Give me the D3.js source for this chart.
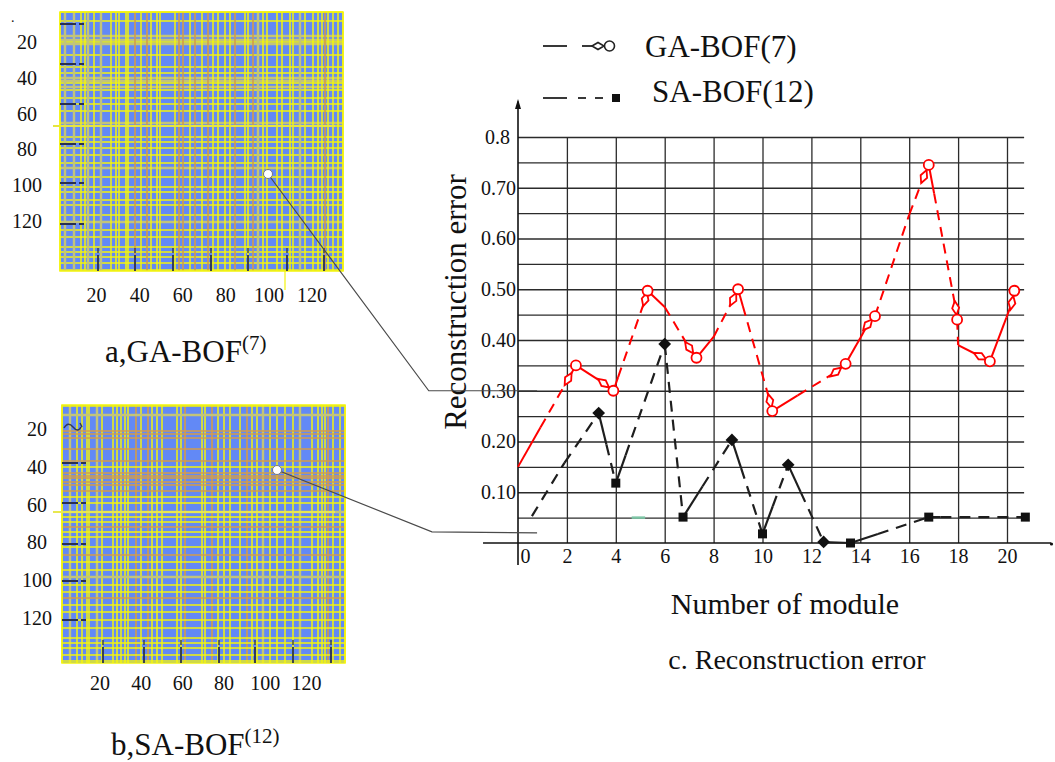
<!DOCTYPE html>
<html><head><meta charset="utf-8">
<script src="https://cdn.jsdelivr.net/npm/d3@7"></script>
<style>
body{margin:0;background:#fff}
svg{display:block}
text{font-family:"Liberation Serif","Times New Roman",serif;fill:#111}
</style>
</head><body>
<svg id="c" width="1055" height="762"></svg>
<script>
// ---------------- DATA ----------------
const moduleTicks = [0,2,4,6,8,10,12,14,16,18,20];
const moduleGrid = [2,4,6,8,10,12,14,16,18,20];
const errorTicks = [0.1,0.2,0.3,0.4,0.5,0.6,0.7,0.8];
const errorTickLabels = ["0.10","0.20","0.30","0.40","0.50","0.60","0.70","0.8"];
const errorGrid = [0.05,0.1,0.15,0.2,0.25,0.3,0.35,0.4,0.45,0.5,0.55,0.6,0.65,0.7,0.75,0.8];

// GA-BOF(7) series (red)
const gaX = [0,2.05,2.37,3.5,3.9,5.2,5.3,6.0,7.0,7.3,8.0,8.8,9.0,10.3,10.4,13.0,13.4,14.0,14.3,14.6,16.0,16.6,16.8,17.9,17.96,18.0,18.9,19.3,20.2,20.3];
const gaY = [0.15,0.323,0.35,0.315,0.30,0.48,0.497,0.465,0.385,0.365,0.406,0.48,0.50,0.28,0.26,0.337,0.353,0.404,0.43,0.447,0.647,0.722,0.745,0.463,0.44,0.39,0.368,0.358,0.473,0.497];
const gaMark = ['','d','c','d','c','d','c','','d','c','','d','c','d','c','d','c','','d','c','','d','c','d','c','','d','c','d','c'];
// SA-BOF(12) series (black)
const saX = [0.57,1.9,3.3,4.0,6.0,6.75,8.75,10.0,11.05,12.5,13.6,16.8,20.75];
const saY = [0.053,0.158,0.256,0.118,0.392,0.051,0.203,0.018,0.154,0.002,0.0,0.051,0.051];
const saMark = ['','','d','s','d','s','d','s','d','d','s','s','s'];

// line style: share of each segment drawn solid before it turns dashed
const gaSolid = [0.45,1,1,1,0.15,1,1,0,1,1,0,1,0.15,1,0.4,1,1,1,1,0,0,1,0.2,1,0,1,1,0.75,1];
const saSolid = [0,0,0.45,0.2,0,0.4,0.3,0.4,0.35,1,0.35,0.12];

// left panels
const panelTickValues = [20,40,60,80,100,120];
const panelALabel = ["a,GA-BOF","(7)"];
const panelBLabel = ["b,SA-BOF","(12)"];
// texture lines of the small images: [position in image pixels, kind]
const aCols = [[0,'y'],[2.5,'p'],[7,'p'],[10.5,'y'],[12.5,'y'],[14,'p'],[17,'y'],[20.5,'p'],[25.5,'y'],[28,'y'],[29.5,'y'],[33,'y'],[34,'y'],[37.5,'o'],[40.5,'y'],[43.5,'o'],[45.5,'y'],[48.5,'y'],[50,'y'],[57.5,'y'],[59.5,'o'],[61.5,'o'],[65,'y'],[67.5,'o'],[71,'y'],[74,'o'],[76.5,'y'],[79,'y'],[82.5,'y'],[85,'y'],[87.5,'o'],[92.5,'y'],[94,'y'],[96.5,'o'],[99,'p'],[101.5,'y'],[103.5,'y'],[108.5,'y'],[111,'y'],[115,'y'],[116.5,'y'],[120,'p'],[122.5,'y'],[126.5,'y'],[129,'y'],[131,'y'],[132.5,'o'],[134,'y'],[136.5,'y'],[139,'y'],[141.5,'y']];
const aRows = [[0,'y'],[4.5,'y'],[12,'p'],[14,'p'],[15,'y'],[16,'p'],[21.5,'y'],[27.5,'y'],[30.5,'y'],[33,'p'],[34.5,'p'],[35.5,'y'],[37.5,'p'],[39,'y'],[43,'y'],[46,'y'],[49.5,'y'],[55.5,'p'],[57,'y'],[62.5,'y'],[65,'y'],[68,'y'],[71.5,'y'],[75.5,'y'],[78,'p'],[82.5,'y'],[87.5,'y'],[90,'y'],[94,'y'],[96.5,'y'],[101.5,'y'],[105,'p'],[109,'y'],[112.5,'y'],[117.5,'y'],[120,'y'],[122.5,'y'],[125.5,'y'],[129,'y']];
const bCols = [[0,'y'],[4,'p'],[7.5,'y'],[10,'y'],[12.5,'y'],[13.5,'y'],[17.5,'p'],[20,'y'],[25.5,'y'],[27.5,'y'],[29.5,'y'],[31.5,'y'],[33,'y'],[37,'o'],[39.5,'y'],[43,'o'],[45,'y'],[47.5,'y'],[50,'y'],[57.5,'y'],[59.5,'y'],[61.5,'o'],[70,'y'],[71.5,'y'],[75,'o'],[78,'y'],[81,'y'],[84,'y'],[89,'y'],[92.5,'o'],[95,'y'],[97.5,'y'],[100.5,'p'],[104,'y'],[107.5,'y'],[111.5,'y'],[115.5,'y'],[119,'p'],[125,'y'],[128,'y'],[130,'y'],[131.5,'y'],[133,'o'],[135.5,'y'],[139,'y'],[141.5,'y']];
const bRows = [[0.5,'y'],[5,'p'],[13,'o'],[14.5,'o'],[16.5,'o'],[22,'o'],[28,'o'],[31,'y'],[34,'o'],[35.5,'o'],[36.5,'o'],[38.5,'o'],[40,'o'],[43,'o'],[46,'y'],[49,'y'],[53.5,'p'],[56,'y'],[58.5,'y'],[61,'o'],[63.5,'y'],[66,'y'],[71,'y'],[75,'o'],[78.5,'y'],[82.5,'y'],[86,'p'],[90,'y'],[93.5,'y'],[96.5,'o'],[100,'y'],[103.5,'y'],[107.5,'y'],[111.5,'y'],[116.5,'y'],[119,'y'],[121.5,'y'],[125,'y'],[128,'y']];
const aLeftTicks = [6,26,46,66,85.5,106];
const aBottomTicks = [19,37.5,56.5,75.5,94,113.5,132];
const bLeftTicks = [29,49,69.5,88,107.5];
const bBottomTicks = [20.5,41,59.5,78.5,96.5,115.5,134.5];
const aPoint = [104,81];
const bPoint = [107.5,32.5];
// where each probe joins the error chart: [module, error]
const aJoin = [[-3.65,0.30],[0.78,0.30]];
const bJoin = [[-3.52,0.022],[0.78,0.02]];

// ---------------- DRAW ----------------
const svg = d3.select('#c');
const FONT = '"Liberation Serif","Times New Roman",serif';
const kindColor = {y:'#f4f40c', p:'#c2c47a', o:'#d49c4a'};
const kindWidth = {y:1.5, p:2.4, o:1.6};

function panel(cols, rows, cx, ry, leftTicks, bottomTicks, horizOnTop){
  const g = svg.append('g');
  g.append('rect').attr('x',cx(0)).attr('y',ry(ry.domain()[0]))
    .attr('width',cx(141.5)-cx(0)).attr('height',ry(ry.domain()[1])-ry(ry.domain()[0]))
    .attr('fill','#6289f6');
  const drawCols = () => g.append('g').selectAll('line').data(cols).join('line')
    .attr('x1',d=>cx(d[0])).attr('x2',d=>cx(d[0]))
    .attr('y1',ry(ry.domain()[0])).attr('y2',ry(ry.domain()[1]))
    .attr('stroke',d=>kindColor[d[1]]).attr('stroke-width',d=>kindWidth[d[1]]);
  const drawRows = () => g.append('g').selectAll('line').data(rows).join('line')
    .attr('y1',d=>ry(d[0])).attr('y2',d=>ry(d[0]))
    .attr('x1',cx(0)).attr('x2',cx(141.5))
    .attr('stroke',d=>kindColor[d[1]]).attr('stroke-width',d=>kindWidth[d[1]]);
  if(horizOnTop){ drawCols(); drawRows(); } else { drawRows(); drawCols(); }
  // border
  g.append('rect').attr('x',cx(0)).attr('y',ry(ry.domain()[0]))
    .attr('width',cx(141.5)-cx(0)).attr('height',ry(ry.domain()[1])-ry(ry.domain()[0]))
    .attr('fill','none').attr('stroke','#f4f40c').attr('stroke-width',1.5);
  // dark ticks inside image
  leftTicks.forEach(t=>{
    g.append('line').attr('x1',cx(0)).attr('x2',cx(8)).attr('y1',ry(t)).attr('y2',ry(t))
      .attr('stroke','#2a3050').attr('stroke-width',2);
    g.append('line').attr('x1',cx(9.5)).attr('x2',cx(12)).attr('y1',ry(t)).attr('y2',ry(t))
      .attr('stroke','#2a3050').attr('stroke-width',2);
  });
  bottomTicks.forEach(t=>{
    const yb = ry(ry.domain()[1]);
    g.append('line').attr('x1',cx(t)).attr('x2',cx(t)).attr('y1',yb-23).attr('y2',yb-18)
      .attr('stroke','#2a3050').attr('stroke-width',1.3);
    g.append('line').attr('x1',cx(t)).attr('x2',cx(t)).attr('y1',yb-16).attr('y2',yb)
      .attr('stroke','#2a3050').attr('stroke-width',1.8);
  });
  return g;
}

// panel a
const colA = d3.scaleLinear().domain([0,141.5]).range([60,343]);
const rowA = d3.scaleLinear().domain([0,129.5]).range([12,271]);
panel(aCols, aRows, colA, rowA, aLeftTicks, aBottomTicks, false);
// stray extended line and mark under panel a
svg.append('line').attr('x1',colA(-3.5)).attr('x2',colA(137.5)).attr('y1',rowA(57)).attr('y2',rowA(57))
  .attr('stroke','#e6e640').attr('stroke-width',2);
svg.append('line').attr('x1',colA(112.5)).attr('x2',colA(112.5)).attr('y1',rowA(129.5)).attr('y2',rowA(129.5)+19)
  .attr('stroke','#f4f40c').attr('stroke-width',1.2);

// panel b
const colB = d3.scaleLinear().domain([0,141.5]).range([62,345]);
const rowB = d3.scaleLinear().domain([0,129]).range([405,663]);
panel(bCols, bRows, colB, rowB, bLeftTicks, bBottomTicks, true);
svg.append('line').attr('x1',colB(-4.5)).attr('x2',colB(136.5)).attr('y1',rowB(53.5)).attr('y2',rowB(53.5))
  .attr('stroke','#e8e850').attr('stroke-width',2);
svg.append('path')
  .attr('d',`M${colB(1)},${rowB(11.5)} q4,-7 9,-1 t8,0 M${colB(9)},${rowB(9)} l2,4`)
  .attr('fill','none').attr('stroke','#333a58').attr('stroke-width',1.5);

// panel tick labels
const ayLab = d3.scaleLinear().domain([20,120]).range([41.6,221.4]);
const axLab = d3.scaleLinear().domain([20,120]).range([96.6,312]);
const byLab = d3.scaleLinear().domain([20,120]).range([428.6,618.4]);
const bxLab = d3.scaleLinear().domain([20,120]).range([100,306.6]);
function labels(vals, xs, ys){
  svg.append('g').selectAll('text').data(vals).join('text')
    .attr('x',xs).attr('y',ys).attr('text-anchor','middle')
    .attr('font-size',20).text(d=>d);
}
labels(panelTickValues, ()=>27, d=>ayLab(d)+7);
labels(panelTickValues, d=>axLab(d), ()=>302);
labels(panelTickValues, ()=>37, d=>byLab(d)+7);
labels(panelTickValues, d=>bxLab(d), ()=>690);
svg.append('text').attr('x',11).attr('y',22).attr('font-size',14).text('.');

function caption(x, yb, parts){
  const t = svg.append('text').attr('x',x).attr('y',yb).attr('font-size',31);
  t.append('tspan').text(parts[0]);
  t.append('tspan').attr('font-size',21).attr('dy',-12).text(parts[1]);
}
caption(105, 362, panelALabel);
caption(111, 755, panelBLabel);

// ---------------- MAIN CHART ----------------
const x = d3.scaleLinear().domain([0,20]).range([518,1007]);
const y = d3.scaleLinear().domain([0,0.8]).range([543,137]);

// horizontal grid
const hGrid = svg.append('g').attr('transform',`translate(${x(0)},0)`)
  .call(d3.axisRight(y).tickValues(errorGrid).tickSize(x(20.7)-x(0)).tickFormat(''));
hGrid.select('.domain').remove();
hGrid.selectAll('line').attr('stroke','#2b2b2b').attr('stroke-width',1.3);
// vertical grid
const vGrid = svg.append('g').attr('transform',`translate(0,${y(0)})`)
  .call(d3.axisTop(x).tickValues(moduleGrid).tickSize(y(0)-y(0.8)).tickFormat(''));
vGrid.select('.domain').remove();
vGrid.selectAll('line').attr('stroke','#2b2b2b').attr('stroke-width',1.3);

// axes lines
svg.append('line').attr('x1',x(-1.43)).attr('x2',x(21.8)).attr('y1',y(0)).attr('y2',y(0))
  .attr('stroke','#111').attr('stroke-width',1.6);
svg.append('circle').attr('cx',x(21.82)).attr('cy',y(0)+1).attr('r',1.6).attr('fill','#111');
svg.append('line').attr('x1',x(0)).attr('x2',x(0)).attr('y1',y(0)+22).attr('y2',y(0.87))
  .attr('stroke','#111').attr('stroke-width',1.6);
svg.append('path')
  .attr('d',`M${x(0)},${y(0.875)} l-3,10 l6,0 z`).attr('fill','#111');

// tick labels via axes
const xLab = svg.append('g').attr('transform',`translate(0,${y(0)})`)
  .call(d3.axisBottom(x).tickValues(moduleTicks).tickSize(0).tickPadding(6).tickFormat(d=>d));
xLab.select('.domain').remove();
xLab.selectAll('text').attr('font-family',FONT).attr('font-size',20).attr('fill','#111')
  .attr('dx',d=>d===0?7:0);
const yLab = svg.append('g').attr('transform',`translate(${x(0)-2},0)`)
  .call(d3.axisLeft(y).tickValues(errorTicks).tickSize(0).tickPadding(0)
    .tickFormat((d,i)=>errorTickLabels[i]));
yLab.select('.domain').remove();
yLab.selectAll('text').attr('font-family',FONT).attr('font-size',20).attr('fill','#111')
  .attr('dx',(d,i)=>errorTickLabels[i].length===3?-6:0);

// titles
svg.append('text').attr('transform',`translate(466,302) rotate(-90)`)
  .attr('text-anchor','middle').attr('font-size',31).text('Reconstruction error');
svg.append('text').attr('x',785).attr('y',614).attr('text-anchor','middle')
  .attr('font-size',30).text('Number of module');
svg.append('text').attr('x',797).attr('y',669).attr('text-anchor','middle')
  .attr('font-size',28).text('c. Reconstruction error');

// connectors from probes to chart
const aLine = [[colA(aPoint[0]),rowA(aPoint[1])]].concat(aJoin.map(p=>[x(p[0]),y(p[1])]));
const bLine = [[colB(bPoint[0]),rowB(bPoint[1])]].concat(bJoin.map(p=>[x(p[0]),y(p[1])]));
[aLine,bLine].forEach(pts=>{
  svg.append('path').attr('d',d3.line()(pts)).attr('fill','none')
    .attr('stroke','#4a4a4a').attr('stroke-width',1.2);
});
svg.append('circle').attr('cx',aLine[0][0]).attr('cy',aLine[0][1]).attr('r',4.5)
  .attr('fill','#fff').attr('stroke','#777').attr('stroke-width',1);
svg.append('circle').attr('cx',bLine[0][0]).attr('cy',bLine[0][1]).attr('r',4.5)
  .attr('fill','#fff').attr('stroke','#777').attr('stroke-width',1);

// green stray stroke
svg.append('line').attr('x1',x(4.65)).attr('x2',x(5.2)).attr('y1',y(0.05)).attr('y2',y(0.05))
  .attr('stroke','#7cc4a4').attr('stroke-width',2.5);

// series drawing
function series(xs, ys, solid, color, width, dash){
  const g = svg.append('g');
  for(let i=0;i<xs.length-1;i++){
    const p0=[x(xs[i]),y(ys[i])], p1=[x(xs[i+1]),y(ys[i+1])];
    const f = solid[i];
    const pm=[p0[0]+f*(p1[0]-p0[0]), p0[1]+f*(p1[1]-p0[1])];
    if(f>0) g.append('path').attr('d',d3.line()([p0,pm])).attr('stroke',color)
      .attr('stroke-width',width).attr('fill','none');
    if(f<1) g.append('path').attr('d',d3.line()([pm,p1])).attr('stroke',color)
      .attr('stroke-width',width).attr('fill','none').attr('stroke-dasharray',dash);
  }
  return g;
}
series(gaX, gaY, gaSolid, '#f00', 2, '10,7');
series(saX, saY, saSolid, '#1e1e1e', 2.2, '11,8');

// red markers
gaX.forEach((v,i)=>{
  const m = gaMark[i]; if(!m) return;
  const px=x(v), py=y(gaY[i]);
  if(m==='c'){
    svg.append('circle').attr('cx',px).attr('cy',py).attr('r',5)
      .attr('fill','#fff').attr('stroke','#f00').attr('stroke-width',1.8);
  } else {
    const j = i+1 < gaX.length ? i+1 : i-1;
    const ang = Math.atan2(y(gaY[j])-py, x(gaX[j])-px)*180/Math.PI;
    svg.append('path').attr('d','M-7,0 L0,-3.5 L7,0 L0,3.5 Z')
      .attr('transform',`translate(${px},${py}) rotate(${ang})`)
      .attr('fill','#fff').attr('stroke','#f00').attr('stroke-width',1.8);
  }
});
// black markers
saX.forEach((v,i)=>{
  const m = saMark[i]; if(!m) return;
  const px=x(v), py=y(saY[i]);
  svg.append('rect').attr('x',-4.5).attr('y',-4.5).attr('width',9).attr('height',9)
    .attr('transform',`translate(${px},${py}) rotate(${m==='d'?45:0})`)
    .attr('fill','#111');
});

// legend
const legend = svg.append('g');
legend.append('line').attr('x1',543).attr('x2',567).attr('y1',46).attr('y2',46).attr('stroke','#222').attr('stroke-width',1.8);
legend.append('line').attr('x1',582).attr('x2',592).attr('y1',46).attr('y2',46).attr('stroke','#222').attr('stroke-width',1.8);
legend.append('path').attr('d','M592,46 L598,42.5 L604,46 L598,49.5 Z').attr('fill','#fff').attr('stroke','#222').attr('stroke-width',1.6);
legend.append('circle').attr('cx',609.5).attr('cy',46).attr('r',5).attr('fill','#fff').attr('stroke','#222').attr('stroke-width',1.6);
legend.append('text').attr('x',645).attr('y',57).attr('font-size',31).text('GA-BOF(7)');
legend.append('line').attr('x1',543).attr('x2',567).attr('y1',98).attr('y2',98).attr('stroke','#222').attr('stroke-width',1.8);
legend.append('line').attr('x1',578).attr('x2',586).attr('y1',98).attr('y2',98).attr('stroke','#222').attr('stroke-width',1.8);
legend.append('line').attr('x1',595).attr('x2',603).attr('y1',98).attr('y2',98).attr('stroke','#222').attr('stroke-width',1.8);
legend.append('rect').attr('x',612).attr('y',94).attr('width',8).attr('height',8).attr('fill','#111');
legend.append('text').attr('x',652).attr('y',102).attr('font-size',31).text('SA-BOF(12)');
</script>
</body></html>
